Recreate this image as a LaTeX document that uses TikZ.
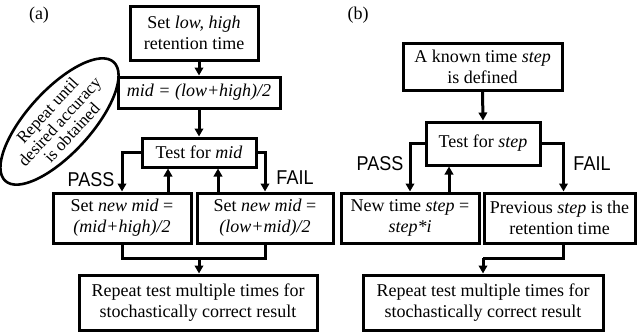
\documentclass[tikz,border=0pt]{standalone}
\usepackage{fontspec}
\setmainfont{Liberation Serif}
\newfontfamily\labelfont{Liberation Sans}
\usetikzlibrary{arrows.meta,shapes.geometric}
\begin{document}
\begin{tikzpicture}[x=1pt,y=-1pt,
  box/.style={draw,line width=3pt,align=center,inner sep=0pt,font=\fontsize{18}{21}\selectfont},
  conn/.style={line width=3pt},
  arr/.style={conn,-{Triangle[length=8pt,width=8.5pt]}},
  lab/.style={font=\labelfont\fontsize{20}{20}\selectfont,inner sep=0pt,transform shape,xscale=0.9},
  panel/.style={font=\fontsize{18}{18}\selectfont,inner sep=0pt}]
\useasboundingbox (0,0) rectangle (637,332);

% panel (a)
\node[panel] (pa) at (39,15) {(a)};
\node[box,minimum width=128pt,minimum height=54pt] (a1) at (194,33) {Set \textit{low, high}\\retention time};
\node[box,minimum width=162pt,minimum height=31pt] (a2) at (199,92.5) {\textit{mid = (low+high)/2}};
\node[box,minimum width=114pt,minimum height=29pt] (a3) at (199,152.5) {Test for \textit{mid}};
\node[box,minimum width=138pt,minimum height=50pt] (a4) at (122,218) {Set \textit{new mid} =\\\textit{(mid+high)/2}};
\node[box,minimum width=136pt,minimum height=50pt] (a5) at (265,218) {Set \textit{new mid} =\\\textit{(low+mid)/2}};
\node[box,minimum width=238pt,minimum height=55pt] (a6) at (198,302.5) {Repeat test multiple times for\\stochastically correct result};
\node[draw,ellipse,line width=2.6pt,minimum width=158pt,minimum height=60pt,inner sep=0pt,rotate=47.6,align=center,font=\fontsize{17}{16.5}\selectfont] (el) at (59.5,121.5) {Repeat until\\desired accuracy\\is obtained};
\node[lab] (pass1) at (91,180) {PASS};
\node[lab] (fail1) at (295,177.5) {FAIL};

\draw[arr] (a1.south -| a2.north) -- (a2.north);
\draw[arr] (a2.south) -- (a3.north);
\draw[arr] (a3.west) -| (a4.north);
\draw[arr] (a3.east) -| (a5.north);
\draw[arr] ([xshift=46pt]a4.north) -- ([xshift=46pt]a4.north |- a3.south);
\draw[arr] ([xshift=-47pt]a5.north) -- ([xshift=-47pt]a5.north |- a3.south);
\coordinate (am) at (199,258);
\draw[conn] (a4.south) -- (a4.south |- am) -| (a5.south);
\draw[arr] (am) -- (am |- a6.north);

% panel (b)
\node[panel] (pb) at (358,15) {(b)};
\node[box,minimum width=159pt,minimum height=47pt] (b1) at (482.5,66.5) {A known time \textit{step}\\is defined};
\node[box,minimum width=114pt,minimum height=43pt] (b2) at (483,143.5) {Test for \textit{step}};
\node[box,minimum width=138pt,minimum height=50pt] (b3) at (410,218) {New time \textit{step} =\\\textit{step*i}};
\node[box,minimum width=151pt,minimum height=50pt] (b4) at (559.5,218) {Previous \textit{step} is the\\retention time};
\node[box,minimum width=240pt,minimum height=55pt] (b5) at (483,302.5) {Repeat test multiple times for\\stochastically correct result};
\node[lab] (pass2) at (380,164) {PASS};
\node[lab] (fail2) at (592,164) {FAIL};

\draw[arr] (b1.south) -- (b2.north);
\draw[arr] (b2.west) -| (b3.north);
\draw[arr] (b2.east) -| ([xshift=4pt]b4.north);
\draw[arr] ([xshift=39pt]b3.north) -- ([xshift=39pt]b3.north |- b2.south);
\coordinate (bm) at (483,258);
\draw[conn] ([xshift=4pt]b4.south) -- ([xshift=4pt]b4.south |- bm) -- (bm);
\draw[arr] (bm) -- (bm |- b5.north);
\end{tikzpicture}
\end{document}
